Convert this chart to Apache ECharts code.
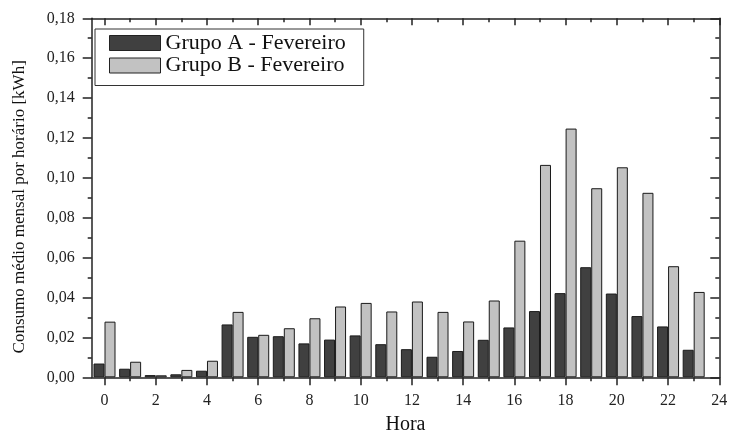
<!DOCTYPE html>
<html>
<head>
<meta charset="utf-8">
<script src="https://cdn.jsdelivr.net/npm/echarts@6/dist/echarts.min.js"></script>
<style>
html,body{margin:0;padding:0;background:#fff;}
#chart{width:729px;height:432px;}
</style>
</head>
<body>
<div id="chart"></div>
<script>
var hours = [0,1,2,3,4,5,6,7,8,9,10,11,12,13,14,15,16,17,18,19,20,21,22,23];
var grupoA = [0.0069,0.0043,0.0011,0.0015,0.0033,0.0265,0.0203,0.0206,0.0170,0.0189,0.0210,0.0166,0.0141,0.0103,0.0132,0.0188,0.0250,0.0332,0.0422,0.0552,0.0420,0.0307,0.0255,0.0138];
var grupoB = [0.0279,0.0078,0.0010,0.0037,0.0083,0.0328,0.0213,0.0246,0.0296,0.0355,0.0373,0.0330,0.0380,0.0328,0.0280,0.0385,0.0685,0.1065,0.1247,0.0948,0.1053,0.0925,0.0557,0.0428];
var majorX = [0,2,4,6,8,10,12,14,16,18,20,22,24];
var minorX = [1,3,5,7,9,11,13,15,17,19,21,23];
var seriesNames = ['Grupo A - Fevereiro','Grupo B - Fevereiro'];

var FONT = '"Liberation Serif", "DejaVu Serif", serif';
var AX = '#222';

function pairs(vals){ return hours.map(function(h,i){ return [h, vals[i]]; }); }

function xAx(pos, ticks, len, inside, showLine, showLabel){
  return {
    type:'value', position:pos, min:-0.5, max:24,
    axisLine:{show:showLine, onZero:false, lineStyle:{color:AX, width:1.5}},
    axisTick:{show:true, inside:inside, length:len, customValues:ticks, lineStyle:{color:AX, width:1.5}},
    axisLabel:{show:showLabel, customValues:ticks, margin:15, color:'#222', fontFamily:FONT, fontSize:16},
    splitLine:{show:false}
  };
}

var chart = echarts.init(document.getElementById('chart'));
chart.setOption({
  animation:false,
  backgroundColor:'#fff',
  grid:{left:91.7, right:9.7, top:18.3, bottom:54.7, outerBoundsMode:'none', containLabel:false},
  legend:{
    data:seriesNames, orient:'vertical', left:95, top:29,
    backgroundColor:'#fff', borderColor:'#333', borderWidth:1,
    padding:[3,18,9,14], itemWidth:51, itemHeight:15, itemGap:0.5, icon:'rect',
    textStyle:{fontFamily:FONT, fontSize:22, color:'#111'},
    itemStyle:{borderColor:'#222', borderWidth:1}
  },
  xAxis:[
    Object.assign(xAx('bottom', majorX, 8, false, true, true), {
      name:'Hora', nameLocation:'middle', nameGap:37,
      nameTextStyle:{fontFamily:FONT, fontSize:20, color:'#111'}
    }),
    xAx('bottom', minorX, 4, false, false, false),
    xAx('top', majorX, 7, true, true, false),
    xAx('top', minorX, 4, true, false, false)
  ],
  yAxis:[
    {
      type:'value', position:'left', min:0, max:0.18, interval:0.02,
      name:'Consumo médio mensal por horário [kWh]', nameLocation:'middle', nameGap:64,
      nameTextStyle:{fontFamily:FONT, fontSize:17, color:'#111', padding:[0,18,0,0]},
      axisLine:{show:true, onZero:false, lineStyle:{color:AX, width:1.5}},
      axisTick:{show:true, inside:false, length:9, lineStyle:{color:AX, width:1.5}},
      minorTick:{show:true, splitNumber:2, length:4, lineStyle:{color:AX, width:1.5}},
      axisLabel:{margin:17, color:'#222', fontFamily:FONT, fontSize:16,
        formatter:function(v){ return v.toFixed(2).replace('.', ','); }},
      splitLine:{show:false}
    },
    {
      type:'value', position:'right', min:0, max:0.18, interval:0.02,
      axisLine:{show:true, onZero:false, lineStyle:{color:AX, width:1.5}},
      axisTick:{show:true, inside:true, length:9, lineStyle:{color:AX, width:1.5}},
      minorTick:{show:true, splitNumber:2, length:4, lineStyle:{color:AX, width:1.5}},
      axisLabel:{show:false},
      splitLine:{show:false}
    }
  ],
  series:[
    {
      name:seriesNames[0], type:'bar', xAxisIndex:0, yAxisIndex:0,
      data:pairs(grupoA), barWidth:11, barGap:'0%',
      itemStyle:{color:'#404040', borderColor:'#1a1a1a', borderWidth:1}
    },
    {
      name:seriesNames[1], type:'bar', xAxisIndex:0, yAxisIndex:0,
      data:pairs(grupoB), barWidth:11, barGap:'0%',
      itemStyle:{color:'#c2c2c2', borderColor:'#1a1a1a', borderWidth:1}
    }
  ]
});
</script>
</body>
</html>
